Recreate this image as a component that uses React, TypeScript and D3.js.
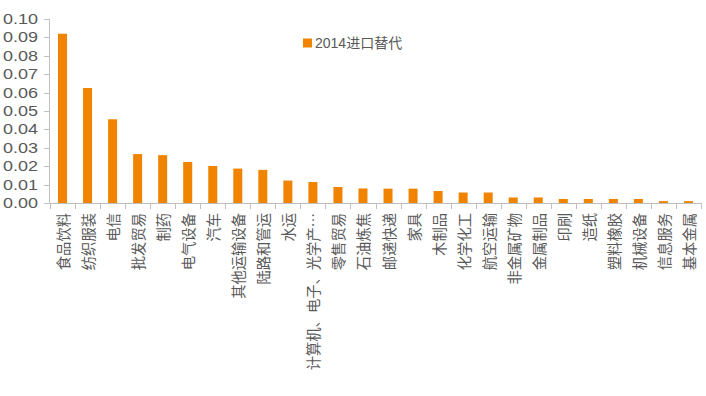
import React from "react";
import * as d3 from "d3";

const categories = [
  "食品饮料", "纺织服装", "电信", "批发贸易", "制药", "电气设备", "汽车", "其他运输设备",
  "陆路和管运", "水运", "计算机、电子、光学产…", "零售贸易", "石油炼焦", "邮递快递", "家具",
  "木制品", "化学化工", "航空运输", "非金属矿物", "金属制品", "印刷", "造纸", "塑料橡胶",
  "机械设备", "信息服务", "基本金属",
];
const values = [
  0.092, 0.0625, 0.0455, 0.0266, 0.026, 0.0223, 0.0201, 0.0187,
  0.018, 0.0122, 0.0114, 0.0087, 0.0079, 0.0078, 0.0078,
  0.0065, 0.0057, 0.0057, 0.003, 0.003, 0.0022, 0.0022, 0.0022,
  0.0022, 0.001, 0.001,
];
const yTicks = [0, 0.01, 0.02, 0.03, 0.04, 0.05, 0.06, 0.07, 0.08, 0.09, 0.1];
const seriesName = "2014进口替代";

const W = 706;
const H = 396;
const BAR = "#F08300";
const AXIS = "#BFBFBF";
const TEXT = "#595959";

export default function App() {
  const x = d3
    .scaleBand<string>()
    .domain(categories)
    .range([50, 701])
    .paddingInner(0.64)
    .paddingOuter(0.32);
  const y = d3.scaleLinear().domain([0, 0.1]).range([203, 19]);
  const step = x.step();
  const x0 = 50;
  const fmt = d3.format(".2f");

  return (
    <svg
      width={W}
      height={H}
      style={{ position: "absolute", left: 0, top: 0, background: "#fff" }}
      fontFamily="'Liberation Sans', 'Noto Sans CJK SC', sans-serif"
    >
      <rect x={0} y={0} width={W} height={H} fill="#fff" />
      {/* bars */}
      {categories.map((c, i) => (
        <rect
          key={c}
          x={x(c)}
          y={y(values[i])}
          width={x.bandwidth()}
          height={y(0) - y(values[i])}
          fill={BAR}
        />
      ))}
      {/* y axis */}
      <line x1={49.5} x2={49.5} y1={y(0.1)} y2={y(0)} stroke={AXIS} strokeWidth={1} />
      {yTicks.map((t) => (
        <g key={t}>
          <line x1={44} x2={49.5} y1={Math.round(y(t)) + 0.5} y2={Math.round(y(t)) + 0.5} stroke={AXIS} />
          <text
            x={38}
            y={y(t)}
            textAnchor="end"
            dominantBaseline="central"
            fontSize={14}
            fill={TEXT}
            textLength={35}
            lengthAdjust="spacingAndGlyphs"
          >
            {fmt(t)}
          </text>
        </g>
      ))}
      {/* x axis */}
      <line x1={49.5} x2={701} y1={y(0) + 0.5} y2={y(0) + 0.5} stroke={AXIS} />
      {d3.range(categories.length + 1).map((i) => (
        <line
          key={i}
          x1={Math.round(x0 + i * step) + 0.5}
          x2={Math.round(x0 + i * step) + 0.5}
          y1={y(0)}
          y2={y(0) + 6}
          stroke={AXIS}
        />
      ))}
      {/* x labels */}
      {categories.map((c) => {
        const cx = (x(c) as number) + x.bandwidth() / 2;
        const ty = 213;
        return (
          <text
            key={c}
            transform={`translate(${cx},${ty}) rotate(-90)`}
            textAnchor="end"
            dominantBaseline="central"
            fontSize={14.3}
            fill={TEXT}
            fontFamily="'Noto Sans CJK SC', sans-serif"
          >
            {c}
          </text>
        );
      })}
      {/* legend */}
      <rect x={303} y={38.5} width={9} height={9} fill={BAR} />
      <text x={315} y={47.5} fontSize={14} fill={TEXT}>
        {seriesName}
      </text>
    </svg>
  );
}
